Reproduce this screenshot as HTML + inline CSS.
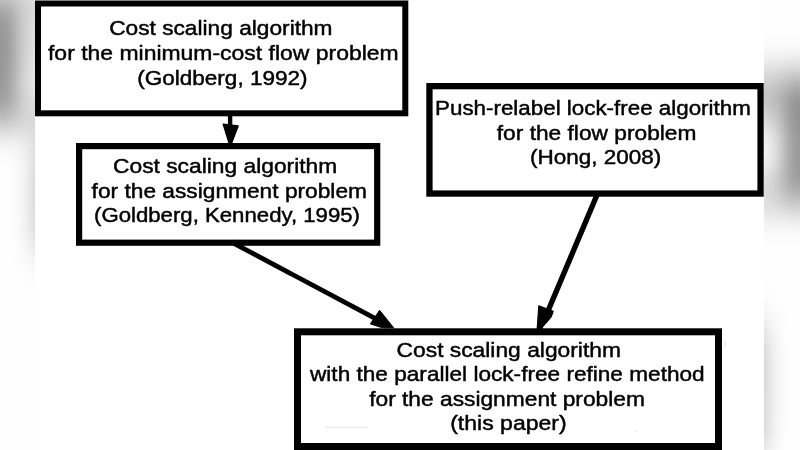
<!DOCTYPE html>
<html><head><meta charset="utf-8">
<style>
html,body{margin:0;padding:0;width:800px;height:450px;overflow:hidden;background:#fff;}
svg{position:absolute;left:0;top:0;display:block;will-change:transform;}
text{font-family:"Liberation Sans",sans-serif;font-size:20.5px;fill:#000;stroke:#000;stroke-width:0.45px;}
</style></head>
<body>
<svg width="800" height="450" viewBox="0 0 800 450">
<defs>
<filter id="bl" filterUnits="userSpaceOnUse" x="-150" y="-150" width="1100" height="750" color-interpolation-filters="sRGB">
<feGaussianBlur stdDeviation="15 21"/>
<feComponentTransfer><feFuncR type="linear" slope="1.06" intercept="-0.06"/><feFuncG type="linear" slope="1.06" intercept="-0.06"/><feFuncB type="linear" slope="1.06" intercept="-0.06"/></feComponentTransfer>
</filter>
<g id="scene">
<g fill="none" stroke="#000">
<rect x="38" y="3.5" width="367.3" height="109.8" stroke-width="6"/>
<rect x="79.1" y="146.1" width="298.1" height="96.6" stroke-width="6.2"/>
<rect x="429.45" y="86.15" width="331.1" height="107.4" stroke-width="6.3"/>
<rect x="297.5" y="331.8" width="421" height="114.7" stroke-width="7"/>
</g>
<!-- arrows -->
<g fill="#000" stroke="#000" stroke-linejoin="round">
<rect x="227.9" y="114" width="4.4" height="14" stroke="none"/>
<polygon points="223.3,124.3 238.1,126 230.2,146.5" stroke-width="1.5"/>
<polygon points="379.6,310.3 393.8,327.9 381.7,327.6 370.3,323.9" stroke-width="1"/>
<polygon points="538.8,305.9 553.2,311.2 551.3,316.5 546.9,321.9 542.5,326.8 542.3,329 537.2,329" stroke-width="1.2"/>
</g>
<g stroke="#000" stroke-linecap="butt">
<line x1="231" y1="241.8" x2="376" y2="318.8" stroke-width="4.8"/>
<line x1="597.4" y1="194" x2="546.7" y2="314" stroke-width="5.4"/>
</g>
<rect x="325" y="426.7" width="42.5" height="1" fill="#e4e4e4"/>
<rect x="724.5" y="341" width="1.2" height="6" fill="#e2e2e2"/>
<rect x="635" y="430.5" width="1.5" height="1.2" fill="#dcdcdc"/>
<!-- texts -->
<g>
<text x="109.16" y="35.3" textLength="223.38" lengthAdjust="spacingAndGlyphs">Cost scaling algorithm</text>
<text x="48.00" y="59.8" textLength="350.65" lengthAdjust="spacingAndGlyphs">for the minimum-cost flow problem</text>
<text x="137.24" y="84.7" textLength="170.30" lengthAdjust="spacingAndGlyphs">(Goldberg, 1992)</text>

<text x="113.0" y="173.1" textLength="224.2" lengthAdjust="spacingAndGlyphs">Cost scaling algorithm</text>
<text x="91.62" y="198.1" textLength="275.38" lengthAdjust="spacingAndGlyphs">for the assignment problem</text>
<text x="94.0" y="222.3" textLength="266.0" lengthAdjust="spacingAndGlyphs">(Goldberg, Kennedy, 1995)</text>

<text x="435.08" y="115.1" textLength="315.68" lengthAdjust="spacingAndGlyphs">Push-relabel lock-free algorithm</text>
<text x="496.8" y="139.6" textLength="199.6" lengthAdjust="spacingAndGlyphs">for the flow problem</text>
<text x="530.0" y="164.0" textLength="131.2" lengthAdjust="spacingAndGlyphs">(Hong, 2008)</text>

<text x="396.62" y="356.7" textLength="224.30" lengthAdjust="spacingAndGlyphs">Cost scaling algorithm</text>
<text x="310.00" y="380.8" textLength="394.65" lengthAdjust="spacingAndGlyphs">with the parallel lock-free refine method</text>
<text x="369.16" y="406.0" textLength="275.76" lengthAdjust="spacingAndGlyphs">for the assignment problem</text>
<text x="450.19" y="429.7" textLength="116.46" lengthAdjust="spacingAndGlyphs">(this paper)</text>
</g>
</g>
</defs>
<g filter="url(#bl)">
<rect x="-300" y="-300" width="1400" height="1050" fill="#fff"/>
<g transform="scale(1.09739 1) translate(-35 0)"><use href="#scene"/></g>
<g transform="scale(-1 1) scale(1.09739 1) translate(-35 0)"><use href="#scene"/></g>
<g transform="translate(1600 0) scale(-1 1) scale(1.09739 1) translate(-35 0)"><use href="#scene"/></g>
</g>
<rect x="35" y="0" width="729" height="450" fill="#fff"/>
<use href="#scene"/>
</svg>
</body></html>
